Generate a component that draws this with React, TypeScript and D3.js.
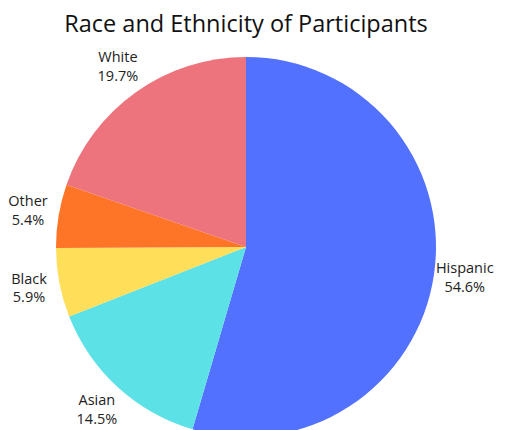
import * as d3 from "d3";

const categories = ["Hispanic", "Asian", "Black", "Other", "White"];
const shares = [54.6, 14.5, 5.9, 5.4, 19.7];
const colors = ["#5271FF", "#5CE1E6", "#FFDE59", "#FF7527", "#ED737C"];

const width = 508;
const height = 430;
const cx = 246;
const cy = 247;
const radius = 190;
const labelRadius = 221;

type Slice = { label: string; value: number; color: string };

export default function App() {
  const data: Slice[] = categories.map((label, i) => ({
    label,
    value: shares[i],
    color: colors[i],
  }));

  const pie = d3
    .pie<Slice>()
    .sort(null)
    .value((d) => d.value);
  const arcs = pie(data);

  const arcGenerator = d3
    .arc<d3.PieArcDatum<Slice>>()
    .innerRadius(0)
    .outerRadius(radius);
  const labelArc = d3
    .arc<d3.PieArcDatum<Slice>>()
    .innerRadius(labelRadius)
    .outerRadius(labelRadius);

  const font = "'Open Sans', 'Noto Sans', sans-serif";

  return (
    <svg
      width={width}
      height={height}
      style={{ position: "absolute", left: 0, top: 0, background: "#fff" }}
    >
      <text
        x={246}
        y={32}
        textAnchor="middle"
        fontFamily={font}
        fontSize={23.5}
        fill="#111"
      >
        Race and Ethnicity of Participants
      </text>
      <g transform={`translate(${cx},${cy})`}>
        {arcs.map((a) => (
          <path key={a.data.label} d={arcGenerator(a) ?? ""} fill={a.data.color} />
        ))}
        {arcs.map((a) => {
          const [lx, ly] = labelArc.centroid(a);
          return (
            <text
              key={`l-${a.data.label}`}
              x={lx}
              y={ly}
              textAnchor="middle"
              fontFamily={font}
              fontSize={14.5}
              fill="#222"
            >
              <tspan x={lx} dy="-0.35em">
                {a.data.label}
              </tspan>
              <tspan x={lx} dy="1.3em">
                {`${a.data.value.toFixed(1)}%`}
              </tspan>
            </text>
          );
        })}
      </g>
    </svg>
  );
}
